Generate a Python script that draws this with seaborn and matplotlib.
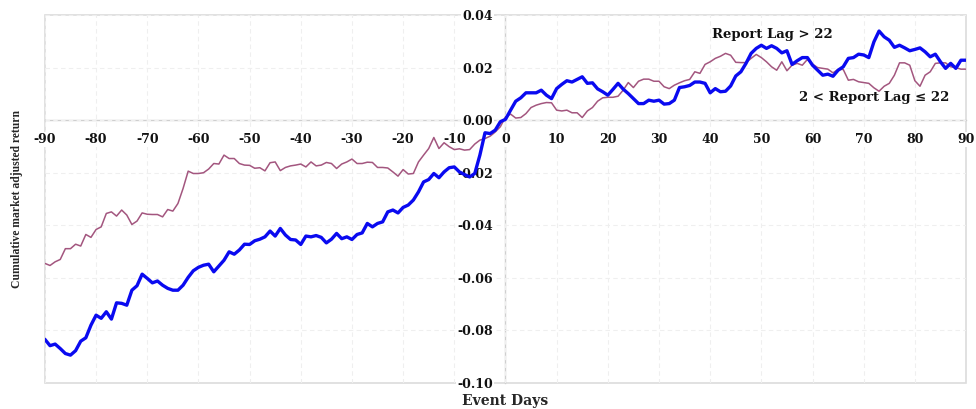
import numpy as np
import pandas as pd
import matplotlib
matplotlib.use("Agg")
import matplotlib.pyplot as plt
import seaborn as sns
from matplotlib.patches import Rectangle
from matplotlib.ticker import MultipleLocator, FormatStrFormatter

# --- data ---
event_days = list(range(-90, 91))

# Report Lag > 22 (thick blue)
lag_long = [
    -0.0834, -0.0858, -0.0852, -0.0869, -0.0888, -0.0894, -0.0877, -0.0841, -0.0828, -0.0780,  # -90..-81
    -0.0742, -0.0754, -0.0729, -0.0757, -0.0695, -0.0697, -0.0704, -0.0647, -0.0630, -0.0586,  # -80..-71
    -0.0602, -0.0619, -0.0612, -0.0628, -0.0640, -0.0647, -0.0647, -0.0628, -0.0598, -0.0573,  # -70..-61
    -0.0560, -0.0552, -0.0548, -0.0577, -0.0555, -0.0533, -0.0501, -0.0510, -0.0494, -0.0472,  # -60..-51
    -0.0473, -0.0459, -0.0453, -0.0444, -0.0422, -0.0441, -0.0412, -0.0437, -0.0454, -0.0456,  # -50..-41
    -0.0473, -0.0441, -0.0444, -0.0439, -0.0446, -0.0467, -0.0453, -0.0431, -0.0451, -0.0444,  # -40..-31
    -0.0454, -0.0435, -0.0429, -0.0393, -0.0406, -0.0393, -0.0387, -0.0349, -0.0342, -0.0353,  # -30..-21
    -0.0332, -0.0323, -0.0304, -0.0273, -0.0235, -0.0226, -0.0203, -0.0219, -0.0197, -0.0181,  # -20..-11
    -0.0178, -0.0197, -0.0207, -0.0216, -0.0203, -0.0133, -0.0048, -0.0051, -0.0038, -0.0006,  # -10..-1
    0.0003, 0.0038, 0.0072, 0.0085, 0.0104, 0.0104, 0.0104, 0.0114, 0.0095, 0.0082,  # 0..9
    0.0120, 0.0136, 0.0150, 0.0145, 0.0155, 0.0165, 0.0140, 0.0142, 0.0119, 0.0108,  # 10..19
    0.0095, 0.0117, 0.0140, 0.0118, 0.0101, 0.0082, 0.0063, 0.0063, 0.0076, 0.0072,  # 20..29
    0.0076, 0.0061, 0.0063, 0.0076, 0.0124, 0.0127, 0.0132, 0.0145, 0.0145, 0.0140,  # 30..39
    0.0104, 0.0120, 0.0108, 0.0110, 0.0130, 0.0168, 0.0184, 0.0216, 0.0254, 0.0273,  # 40..49
    0.0285, 0.0273, 0.0283, 0.0273, 0.0256, 0.0264, 0.0212, 0.0226, 0.0238, 0.0238,  # 50..59
    0.0209, 0.0190, 0.0171, 0.0175, 0.0167, 0.0190, 0.0203, 0.0235, 0.0238, 0.0251,  # 60..69
    0.0248, 0.0238, 0.0298, 0.0339, 0.0317, 0.0304, 0.0277, 0.0285, 0.0275, 0.0264,  # 70..79
    0.0269, 0.0275, 0.0260, 0.0241, 0.0251, 0.0222, 0.0197, 0.0216, 0.0197, 0.0228,  # 80..89
    0.0228,  # 90
]

# 2 < Report Lag <= 22 (thin mauve)
lag_mid = [
    -0.0545, -0.0553, -0.0539, -0.0530, -0.0489, -0.0489, -0.0472, -0.0479, -0.0435, -0.0446,  # -90..-81
    -0.0416, -0.0406, -0.0355, -0.0349, -0.0365, -0.0342, -0.0361, -0.0397, -0.0384, -0.0353,  # -80..-71
    -0.0358, -0.0359, -0.0359, -0.0368, -0.0340, -0.0346, -0.0317, -0.0260, -0.0194, -0.0203,  # -70..-61
    -0.0203, -0.0200, -0.0186, -0.0165, -0.0167, -0.0133, -0.0146, -0.0146, -0.0165, -0.0171,  # -60..-51
    -0.0172, -0.0183, -0.0181, -0.0193, -0.0162, -0.0159, -0.0192, -0.0180, -0.0174, -0.0171,  # -50..-41
    -0.0167, -0.0178, -0.0159, -0.0174, -0.0171, -0.0161, -0.0165, -0.0184, -0.0167, -0.0159,  # -40..-31
    -0.0148, -0.0165, -0.0165, -0.0160, -0.0161, -0.0180, -0.0180, -0.0182, -0.0197, -0.0213,  # -30..-21
    -0.0188, -0.0205, -0.0203, -0.0159, -0.0133, -0.0108, -0.0066, -0.0108, -0.0086, -0.0101,  # -20..-11
    -0.0112, -0.0109, -0.0114, -0.0112, -0.0091, -0.0076, -0.0070, -0.0061, -0.0045, -0.0025,  # -10..-1
    0.0012, 0.0023, 0.0008, 0.0010, 0.0025, 0.0048, 0.0057, 0.0063, 0.0067, 0.0066,  # 0..9
    0.0038, 0.0035, 0.0038, 0.0028, 0.0028, 0.0010, 0.0035, 0.0048, 0.0072, 0.0085,  # 10..19
    0.0087, 0.0087, 0.0091, 0.0114, 0.0143, 0.0124, 0.0148, 0.0156, 0.0156, 0.0148,  # 20..29
    0.0148, 0.0127, 0.0120, 0.0133, 0.0142, 0.0150, 0.0155, 0.0184, 0.0178, 0.0212,  # 30..39
    0.0222, 0.0235, 0.0243, 0.0254, 0.0247, 0.0220, 0.0219, 0.0219, 0.0235, 0.0250,  # 40..49
    0.0238, 0.0222, 0.0203, 0.0190, 0.0222, 0.0188, 0.0209, 0.0216, 0.0209, 0.0231,  # 50..59
    0.0213, 0.0200, 0.0197, 0.0194, 0.0180, 0.0193, 0.0193, 0.0152, 0.0155, 0.0146,  # 60..69
    0.0143, 0.0140, 0.0123, 0.0110, 0.0129, 0.0140, 0.0171, 0.0218, 0.0218, 0.0209,  # 70..79
    0.0150, 0.0129, 0.0171, 0.0184, 0.0216, 0.0218, 0.0218, 0.0203, 0.0200, 0.0194,  # 80..89
    0.0194,  # 90
]

x_ticks = list(range(-90, 91, 10))
y_ticks = [-0.10, -0.08, -0.06, -0.04, -0.02, 0.00, 0.02, 0.04]

LONG_LABEL = "Report Lag > 22"
MID_LABEL = "2 < Report Lag \u2264 22"

df = pd.DataFrame({"Event Days": event_days, LONG_LABEL: lag_long, MID_LABEL: lag_mid})

# --- style ---
sns.set_style("white")
plt.rcParams['font.family'] = ['DejaVu Serif']
plt.rcParams['font.weight'] = 'bold'
plt.rcParams['axes.labelweight'] = 'bold'
plt.rcParams['axes.unicode_minus'] = False

fig, ax = plt.subplots(figsize=(9.76, 4.09), dpi=100)
fig.subplots_adjust(left=0.046, right=0.9898, top=0.9633, bottom=0.0636)

sns.lineplot(data=df, x="Event Days", y=MID_LABEL, color="#a3567f", linewidth=1.1, ax=ax, zorder=3)
sns.lineplot(data=df, x="Event Days", y=LONG_LABEL, color="#0a0af0", linewidth=2.4, ax=ax, zorder=4)

ax.set_xlim(-90, 90)
ax.set_ylim(-0.10, 0.04)
ax.set_xticks(x_ticks)
ax.set_yticks(y_ticks)
ax.yaxis.set_major_formatter(FormatStrFormatter('%.2f'))
ax.xaxis.set_minor_locator(MultipleLocator(1))
ax.yaxis.set_minor_locator(MultipleLocator(0.0025))

# faint dashed grid (not on the zero lines, the axes are drawn there)
ax.grid(True, which='major', color='#efefef', linestyle=(0, (4, 3)), linewidth=0.8)
ax.set_axisbelow(True)
for tick in ax.xaxis.get_major_ticks() + ax.yaxis.get_major_ticks():
    if abs(tick.get_loc()) < 1e-9:
        tick.gridline.set_visible(False)

# axes cross at the origin, light grey frame round the plot
ax.spines['left'].set_position(('data', 0))
ax.spines['bottom'].set_position(('data', 0))
for side in ['left', 'bottom']:
    ax.spines[side].set_color('#cfcfcf')
    ax.spines[side].set_linewidth(1.0)
    ax.spines[side].set_zorder(0.2)
ax.spines['top'].set_visible(False)
ax.spines['right'].set_visible(False)
ax.add_patch(Rectangle((0, 0), 1, 1, transform=ax.transAxes, fill=False,
                       edgecolor='#dcdcdc', linewidth=1.2, clip_on=False, zorder=0))

ax.tick_params(axis='both', which='major', length=0, pad=9, labelsize=9, colors='#111111')
ax.tick_params(axis='both', which='minor', length=3, direction='in', color='#cfcfcf', width=0.8)

# labels sit on a white patch (they hide the frame), data lines go over them
for lbl in ax.get_xticklabels() + ax.get_yticklabels():
    lbl.set_bbox(dict(facecolor='white', edgecolor='none', pad=0.6))

ax.set_xlabel("Event Days", fontsize=10, fontweight='bold')
ax.xaxis.set_label_coords(0.5, -0.030)
ax.set_ylabel("Cumulative market adjusted return", family=['Liberation Serif'],
              fontsize=8.4, fontweight='bold')
ax.yaxis.set_label_coords(-0.024, 0.5)

ax.text(52.2, 0.0325, LONG_LABEL, ha='center', va='center', fontsize=9.5, color='#111111', zorder=5)
ax.text(72.1, 0.0087, MID_LABEL, ha='center', va='center', fontsize=9.5, color='#111111', zorder=5)

fig.savefig("out.png", dpi=100)
